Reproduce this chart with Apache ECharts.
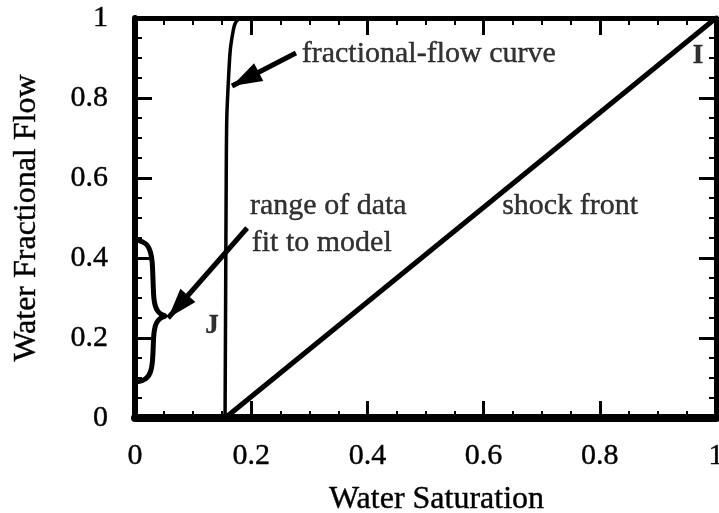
<!DOCTYPE html>
<html>
<head>
<meta charset="utf-8">
<script src="https://cdn.jsdelivr.net/npm/echarts@6/dist/echarts.min.js"></script>
<style>
  html, body { margin: 0; padding: 0; background: #fff; }
  #chart { width: 719px; height: 513px; }
</style>
</head>
<body>
<div id="chart"></div>
<script>
// Fractional-flow curve (water saturation vs. water fractional flow)
const flowSat = [0.155, 0.156, 0.157, 0.158, 0.161, 0.164, 0.168, 0.172, 0.178, 0.19];
const flowFw  = [0,     0.3,   0.6,   0.75,  0.85,  0.92,  0.96,  0.985, 0.996, 1.0];

// Shock front: straight line from J to I
const shockSat = [0.155, 1.0];
const shockFw  = [0,     1.0];

// Brace marking the range of data fit to the model
const braceSat = [0.0017, 0.012, 0.0207, 0.0265, 0.0295, 0.031, 0.0325, 0.035, 0.039, 0.0445, 0.0516,
                  0.0445, 0.039, 0.035, 0.0325, 0.031, 0.0295, 0.0265, 0.0207, 0.012, 0.0017];
const braceFw  = [0.445, 0.441, 0.4325, 0.415, 0.39, 0.345, 0.3, 0.28, 0.268, 0.26, 0.255,
                  0.25, 0.242, 0.23, 0.21, 0.165, 0.135, 0.115, 0.101, 0.093, 0.09];

// Arrows: [tailSat, tailFw, tipSat, tipFw]
const arrowFlow  = [0.277, 0.9125, 0.167, 0.83];
const arrowRange = [0.193, 0.475, 0.057, 0.25];

// Text notes
const noteSat  = [0.287, 0.198, 0.201, 0.632];
const noteFw   = [0.91, 0.53, 0.4375, 0.53];
const noteText = ['fractional-flow curve', 'range of data', 'fit to model', 'shock front'];

// Point letters
const pointSat  = [0.1325, 0.969];
const pointFw   = [0.23, 0.905];
const pointText = ['J', 'I'];

// Tick labels
const xTickLabels = ['0', '0.2', '0.4', '0.6', '0.8', '1'];
const yTickLabels = ['0', '0.2', '0.4', '0.6', '0.8', '1'];

const serif = "'Liberation Serif', 'Times New Roman', Times, serif";
const ink = { color: '#000', textBorderColor: '#000', textBorderWidth: 0.4 };

function pairs(xs, ys) { return xs.map((x, i) => [x, ys[i]]); }

function frameAxis(extra) {
  return Object.assign({
    type: 'value', min: 0, max: 1, interval: 0.2,
    axisLine: { show: true, onZero: false, lineStyle: { color: '#000', width: 5 } },
    axisTick: { show: true, inside: true, length: 17, lineStyle: { color: '#000', width: 3 } },
    minorTick: { show: true, splitNumber: 4, length: 7, lineStyle: { color: '#000', width: 2 } },
    splitLine: { show: false },
    axisLabel: { show: false }
  }, extra);
}

const chart = echarts.init(document.getElementById('chart'), null, { renderer: 'canvas' });

chart.setOption({
  animation: false,
  backgroundColor: '#fff',
  grid: { left: 135, right: 3, top: 18, bottom: 95, containLabel: false, outerBoundsMode: 'none' },
  xAxis: [
    frameAxis({
      position: 'bottom',
      axisLine: { show: true, onZero: false, lineStyle: { color: '#000', width: 8 } },
      axisLabel: Object.assign({
        show: true, margin: 23, fontFamily: serif, fontSize: 30,
        formatter: v => xTickLabels[Math.round(v / 0.2)]
      }, ink),
      name: 'Water Saturation', nameLocation: 'middle', nameGap: 66,
      nameTextStyle: Object.assign({ fontFamily: serif, fontSize: 32, padding: [0, 0, 0, 22] }, ink)
    }),
    frameAxis({ position: 'top' })
  ],
  yAxis: [
    frameAxis({
      position: 'left',
      axisLine: { show: true, onZero: false, lineStyle: { color: '#000', width: 6 } },
      axisLabel: Object.assign({
        show: true, margin: 27, fontFamily: serif, fontSize: 30,
        formatter: v => yTickLabels[Math.round(v / 0.2)]
      }, ink),
      name: 'Water Fractional Flow', nameLocation: 'middle', nameGap: 92,
      nameTextStyle: Object.assign({ fontFamily: serif, fontSize: 32 }, ink)
    }),
    frameAxis({ position: 'right' })
  ],
  series: [
    {
      name: 'fractional flow', type: 'line', data: pairs(flowSat, flowFw),
      showSymbol: false, clip: false, smooth: 0.3,
      lineStyle: { color: '#000', width: 3.5 }
    },
    {
      name: 'shock front', type: 'line', data: pairs(shockSat, shockFw),
      showSymbol: false, clip: false,
      lineStyle: { color: '#000', width: 5 }
    },
    {
      name: 'data range', type: 'line', data: pairs(braceSat, braceFw),
      showSymbol: false, clip: false, smooth: 0.4,
      lineStyle: { color: '#000', width: 5, join: 'round', cap: 'round' },
      markLine: {
        silent: true, animation: false,
        symbol: ['none', 'triangle'], symbolSize: [20, 30],
        symbolOffset: [0, [0, 15]],
        lineStyle: { color: '#000', width: 5, type: 'solid' },
        itemStyle: { color: '#000' },
        label: { show: false },
        data: [
          [{ coord: [arrowFlow[0], arrowFlow[1]] }, { coord: [arrowFlow[2], arrowFlow[3]] }],
          [{ coord: [arrowRange[0], arrowRange[1]] }, { coord: [arrowRange[2], arrowRange[3]] }]
        ]
      }
    },
    {
      name: 'notes', type: 'scatter', symbolSize: 0, silent: true,
      data: noteSat.map((x, i) => ({ value: [x, noteFw[i]], name: noteText[i] })),
      label: Object.assign({
        show: true, position: 'right', distance: 0, formatter: p => p.name,
        fontFamily: serif, fontSize: 30
      }, ink)
    },
    {
      name: 'points', type: 'scatter', symbolSize: 0, silent: true,
      data: pointSat.map((x, i) => ({ value: [x, pointFw[i]], name: pointText[i] })),
      label: Object.assign({
        show: true, position: 'inside', formatter: p => p.name,
        fontFamily: serif, fontSize: 27, fontWeight: 'bold'
      }, ink)
    }
  ]
});
</script>
</body>
</html>
